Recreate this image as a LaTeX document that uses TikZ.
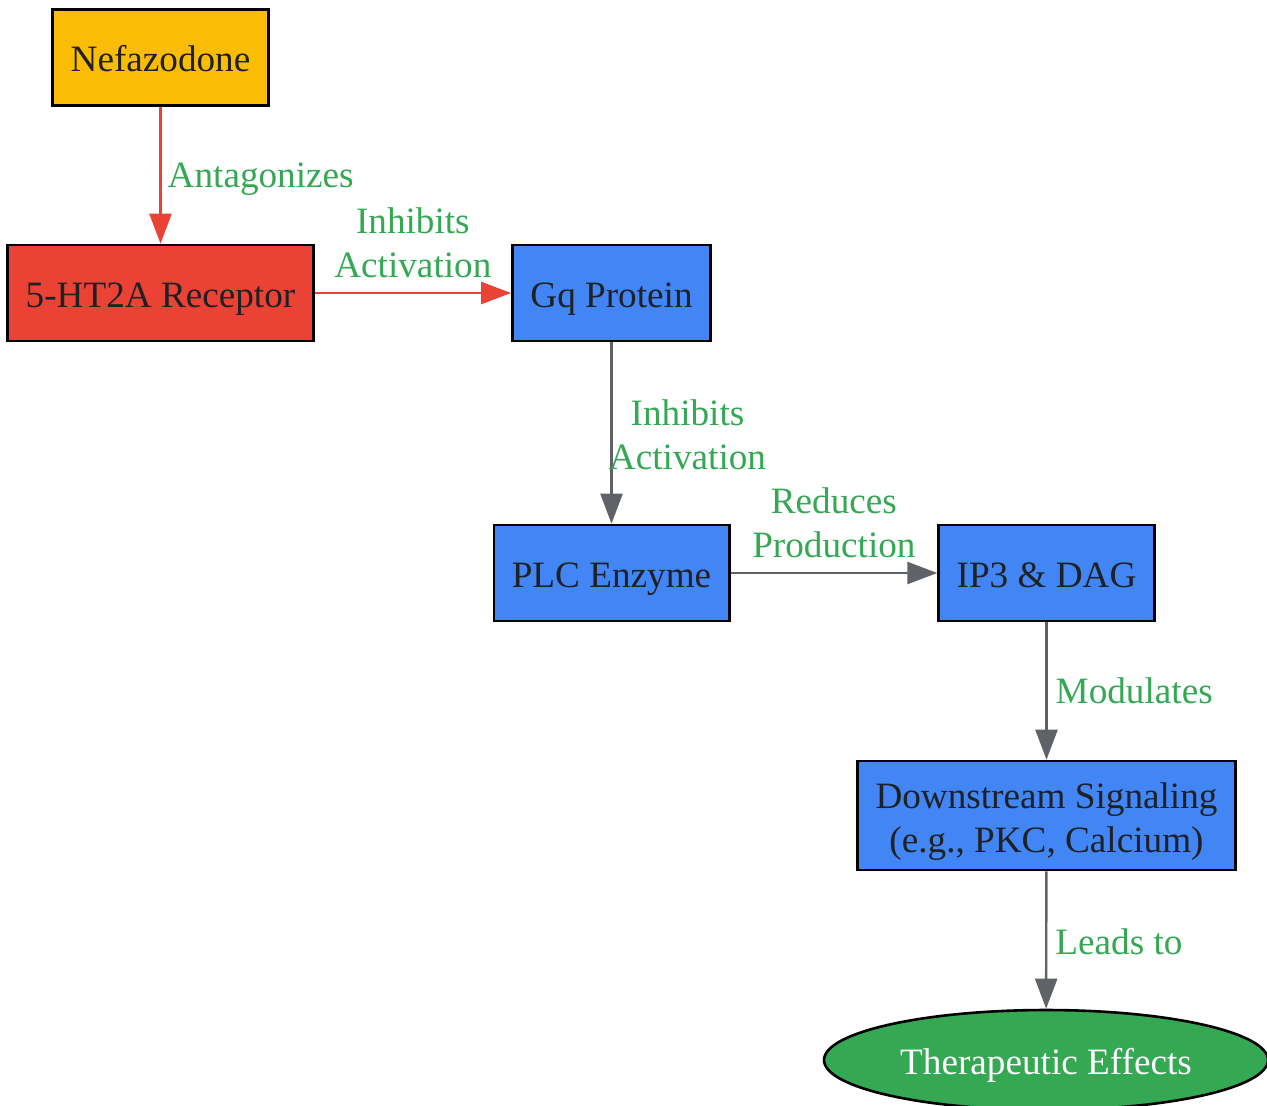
\documentclass[tikz,border=0pt]{standalone}
\usepackage{fontspec}
\setmainfont{Liberation Serif}
\usetikzlibrary{shapes.geometric,arrows.meta}
\definecolor{gyellow}{HTML}{FBBC05}
\definecolor{gred}{HTML}{EA4335}
\definecolor{gblue}{HTML}{4285F4}
\definecolor{ggreen}{HTML}{34A853}
\definecolor{ggray}{HTML}{5F6368}
\definecolor{gtext}{HTML}{202124}

\begin{document}
\begin{tikzpicture} [x=0.5pt, y=-0.5pt,
                     every node/.style={font=\fontsize{18.6pt}{22pt}\selectfont},
                     oneline/.style={text height=14pt, text depth=0pt},
                     box/.style={shape=rectangle, draw=black, line width=1.3pt,
                                 minimum height=48pt, inner xsep=9pt,
                                 text=gtext, align=center},
                     flow/.style={line width=1.2pt, draw=ggray,
                                  -{Triangle[length=15pt,width=11pt]}},
                     redflow/.style={flow, draw=gred},
                     lbl/.style={text=ggreen, align=center, inner sep=1pt}]
\useasboundingbox (0,0) rectangle (1267,1105);
\clip (0,0) rectangle (1267,1105);

% nodes
\node[box, oneline, fill=gyellow] (nef)  at (160.5,57.5)  {Nefazodone};
\node[box, oneline, fill=gred]    (rec)  at (160.5,293)   {5-HT2A Receptor};
\node[box, oneline, fill=gblue]   (gq)   at (611.5,293)   {Gq Protein};
\node[box, oneline, fill=gblue]   (plc)  at (611.5,573)   {PLC Enzyme};
\node[box, oneline, fill=gblue]   (ip3)  at (1046.5,573)  {IP3 \& DAG};
\node[box, fill=gblue, minimum height=54.5pt, inner ysep=0pt] (down) at (1046.5,815.5)
     {\rule{0pt}{19pt}Downstream Signaling\\(e.g., PKC, Calcium)};
\node[shape=ellipse, oneline, draw=black, line width=1.3pt, fill=ggreen, text=white,
      minimum width=222pt, minimum height=50pt, inner sep=0pt]
     (ther) at (1046,1060) {Therapeutic Effects};

% connectors
\draw[redflow] (nef) -- (rec)
     node[lbl, oneline, pos=0.49, anchor=west, xshift=2pt] {Antagonizes};
\draw[redflow] (rec) -- (gq)
     node[lbl, midway, yshift=25pt] {Inhibits\\Activation};
\draw[flow] (gq) -- (plc)
     node[lbl, pos=0.51, xshift=38pt] {Inhibits\\Activation};
\draw[flow] (plc) -- (ip3)
     node[lbl, midway, yshift=25pt] {Reduces\\Production};
\draw[flow] (ip3) -- (down)
     node[lbl, oneline, pos=0.49, anchor=west, xshift=3pt] {Modulates};
\draw[flow] (down) -- (ther)
     node[lbl, oneline, pos=0.5, anchor=west, xshift=3pt] {Leads to};
\end{tikzpicture}
\end{document}
